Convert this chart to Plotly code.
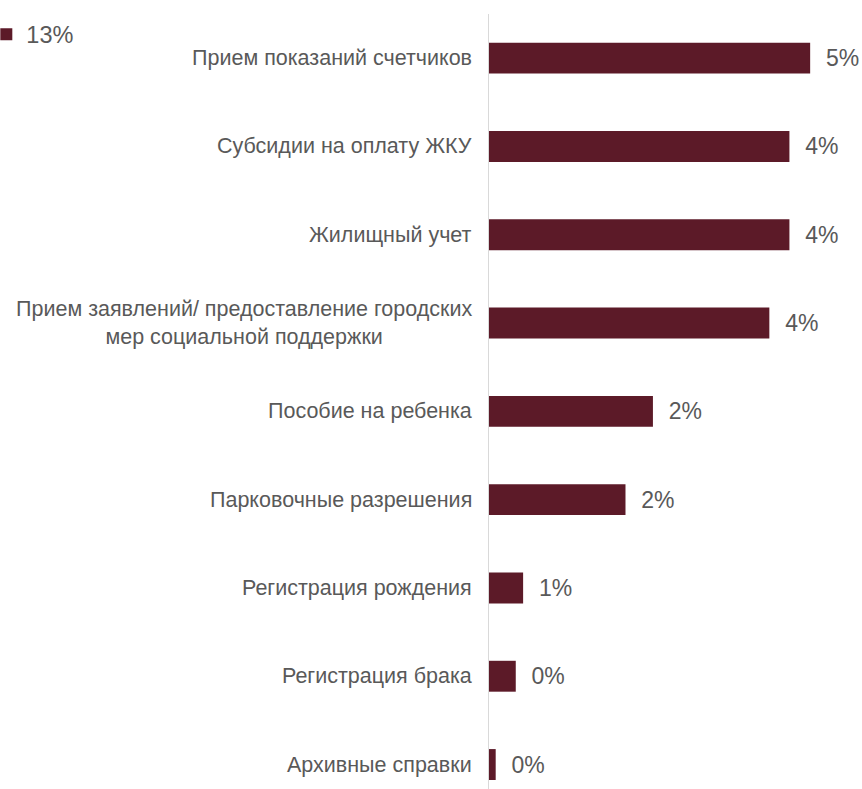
import plotly.graph_objects as go

# Services, top to bottom
categories = [
    "Прием показаний счетчиков",
    "Субсидии на оплату ЖКУ",
    "Жилищный учет",
    "Прием заявлений/ предоставление городских<br>мер социальной поддержки",
    "Пособие на ребенка",
    "Парковочные разрешения",
    "Регистрация рождения",
    "Регистрация брака",
    "Архивные справки",
]
# Share of requests, %
values = [4.80, 4.49, 4.49, 4.19, 2.45, 2.04, 0.51, 0.40, 0.10]
series_name = "13%"

BAR = "#5C1A28"
TEXT = "#595959"
FONT = "Liberation Sans, Arial, sans-serif"

fig = go.Figure(
    go.Bar(
        y=categories,
        x=values,
        orientation="h",
        name=series_name,
        marker=dict(color=BAR, line=dict(width=0)),
        width=0.35,
        texttemplate="\u00a0\u00a0%{x:.0f}%",
        textposition="outside",
        constraintext="none",
        cliponaxis=False,
        textfont=dict(size=23, color=TEXT, family=FONT),
        showlegend=True,
    )
)

# Category labels, centred on multiple lines
for c in categories:
    fig.add_annotation(
        x=0, xref="paper", y=c, yref="y",
        text=c, showarrow=False,
        xanchor="right", align="center",
        xshift=-15,
        font=dict(size=21.5, color=TEXT, family=FONT),
    )

fig.update_layout(
    width=862, height=789,
    margin=dict(l=489, r=5, t=14, b=0, autoexpand=False),
    paper_bgcolor="white", plot_bgcolor="white",
    font=dict(family=FONT, color=TEXT),
    xaxis=dict(visible=False, range=[0, 5.5]),
    yaxis=dict(
        type="category",
        range=[8.277, -0.5],
        showticklabels=False, ticks="",
        showgrid=False, zeroline=False,
        showline=True, linecolor="#d9d9d9", linewidth=1,
    ),
    legend=dict(
        x=-1.366, xanchor="left", y=1.002, yanchor="top",
        font=dict(size=23.5, color=TEXT, family=FONT),
        bgcolor="rgba(0,0,0,0)",
    ),
)

fig.write_html("out.html")
